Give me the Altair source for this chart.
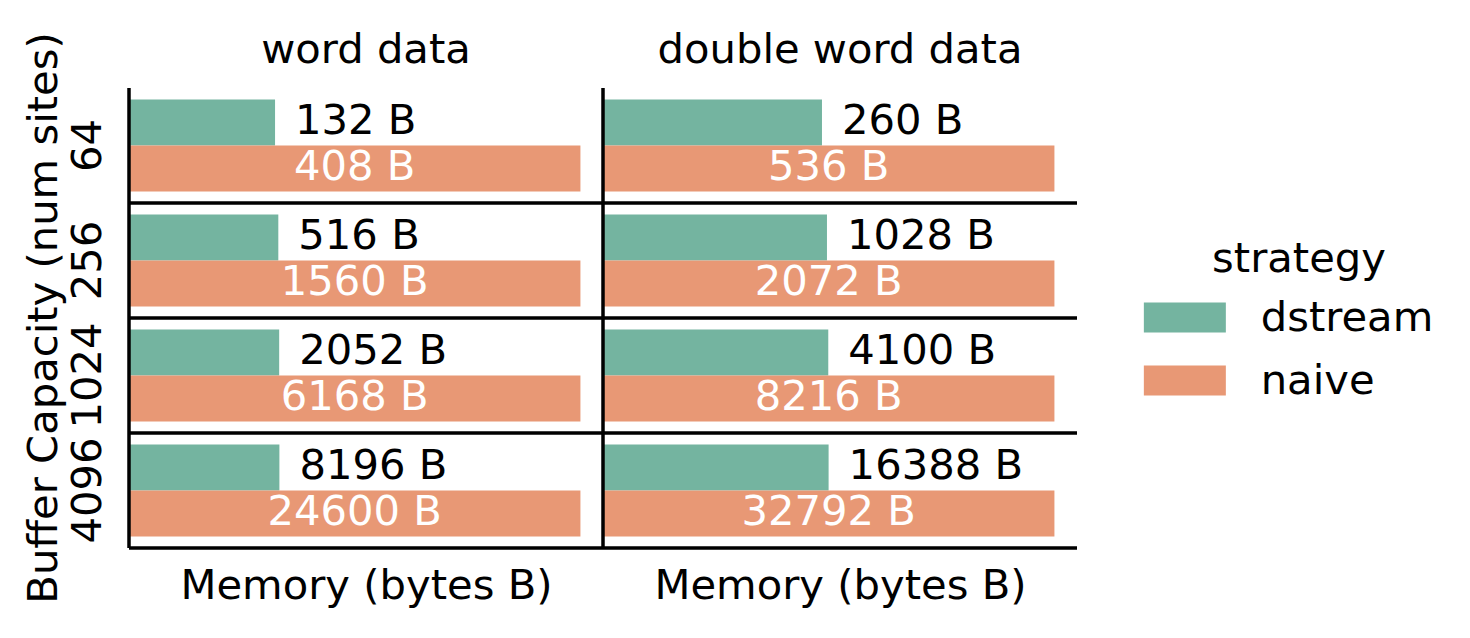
import altair as alt
import pandas as pd

capacities = ["64", "256", "1024", "4096"]
data_types = ["word data", "double word data"]
strategies = ["dstream", "naive"]
dstream_word = [132, 516, 2052, 8196]
naive_word = [408, 1560, 6168, 24600]
dstream_dword = [260, 1028, 4100, 16388]
naive_dword = [536, 2072, 8216, 32792]
colors = ["#74b4a0", "#e89875"]

rows = []
for dt, ds, nv in [("word data", dstream_word, naive_word),
                   ("double word data", dstream_dword, naive_dword)]:
    for cap, d, n in zip(capacities, ds, nv):
        rows.append(dict(data=dt, capacity=cap, strategy="dstream", bytes=d, rel=d / n, label=f"{d} B"))
        rows.append(dict(data=dt, capacity=cap, strategy="naive", bytes=n, rel=n / n, label=f"{n} B"))
df = pd.DataFrame(rows)

W, H = 474, 115
FONT = "DejaVu Sans"
FS = 41.7

xscale = alt.Scale(domain=[0, 1.05], nice=False, zero=True)
y = alt.Y("strategy:N", sort=strategies,
          scale=alt.Scale(paddingInner=0, paddingOuter=0.25), axis=None)

bars = alt.Chart().mark_bar().encode(
    x=alt.X("rel:Q", scale=xscale,
            axis=alt.Axis(title="Memory (bytes B)", domain=False, ticks=False,
                          labels=False, grid=False, titleFontSize=FS, titleFont=FONT,
                          titleFontWeight="normal", titleColor="black", titlePadding=17)),
    y=y,
    color=alt.Color("strategy:N", scale=alt.Scale(domain=strategies, range=colors),
                    legend=alt.Legend(title="strategy", orient="none", legendX=1035, legendY=151,
                                      titleFontSize=FS, labelFontSize=FS, titleFont=FONT,
                                      labelFont=FONT, titleFontWeight="normal",
                                      titleColor="black", labelColor="black",
                                      titleAnchor="middle", labelLimit=400,
                                      symbolType="M-2,-0.732L2,-0.732L2,0.732L-2,0.732Z",
                                      symbolSize=1681, symbolStrokeWidth=0, symbolOpacity=1,
                                      labelOffset=55, rowPadding=20, titlePadding=16)),
)

text_d = alt.Chart().transform_filter(alt.datum.strategy == "dstream").mark_text(
    align="left", baseline="middle", dx=20, dy=-2, fontSize=FS, font=FONT, color="black"
).encode(x=alt.X("rel:Q", scale=xscale), y=y, text="label:N")

text_n = alt.Chart().transform_filter(alt.datum.strategy == "naive").transform_calculate(
    mid="datum.rel / 2"
).mark_text(
    align="center", baseline="middle", dy=-2, fontSize=FS, font=FONT, color="white"
).encode(x=alt.X("mid:Q", scale=xscale), y=y, text="label:N")

vrule = alt.Chart().mark_rule(color="black", strokeWidth=3).encode(
    x=alt.value(0), y=alt.value(0), y2=alt.value(H))
hrule = alt.Chart().mark_rule(color="black", strokeWidth=3).encode(
    x=alt.value(0), x2=alt.value(W), y=alt.value(H))

chart = alt.layer(bars, text_d, text_n, vrule, hrule, data=df).properties(
    width=W, height=H
).facet(
    row=alt.Row("capacity:N", sort=capacities,
                header=alt.Header(title="Buffer Capacity (num sites)", labelAngle=270,
                                  labelOrient="left", titleOrient="left",
                                  labelFontSize=FS, titleFontSize=FS, labelFont=FONT,
                                  titleFont=FONT, titleFontWeight="normal",
                                  labelColor="black", titleColor="black",
                                  labelPadding=-23, titlePadding=-8)),
    column=alt.Column("data:N", sort=data_types,
                      header=alt.Header(title=None, labelFontSize=FS, labelFont=FONT,
                                        labelColor="black", labelPadding=16)),
    spacing=0,
    bounds="flush",
).properties(
    padding={"left": 24, "top": 30, "right": 10, "bottom": 10},
    background="white",
).configure_view(stroke=None)

chart.save("out.html", embed_options={"renderer": "svg", "actions": False})
